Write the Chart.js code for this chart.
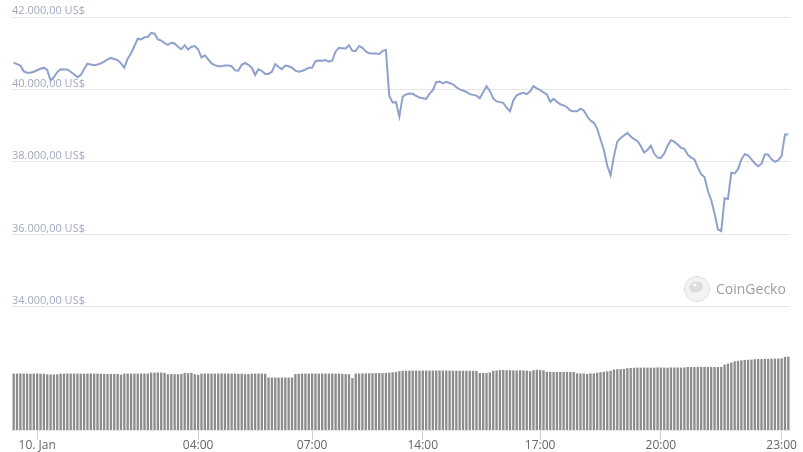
<!DOCTYPE html>
<html>
<head>
<meta charset="utf-8">
<script src="https://cdn.jsdelivr.net/npm/chart.js@4/dist/chart.umd.min.js"></script>
<style>
  html, body { margin: 0; padding: 0; background: #fff; }
  #wrap { width: 803px; height: 452px; position: relative; }
</style>
</head>
<body>
<div id="wrap"><canvas id="btcChart"></canvas></div>
<script>
// BTC price (US$) per 5-minute sample
const priceValues = [
  40740, 40700, 40660, 40500, 40460, 40460, 40490, 40530, 40570, 40600,
  40540, 40250, 40340, 40480, 40560, 40550, 40550, 40490, 40420, 40340,
  40400, 40560, 40710, 40690, 40670, 40690, 40720, 40770, 40830, 40870,
  40840, 40810, 40720, 40600, 40850, 41000, 41200, 41400, 41380, 41440,
  41450, 41560, 41540, 41380, 41350, 41280, 41230, 41290, 41270, 41180,
  41110, 41220, 41100, 41180, 41200, 41110, 40880, 40940, 40830, 40720,
  40670, 40640, 40640, 40660, 40660, 40640, 40530, 40520, 40680, 40730,
  40680, 40600, 40400, 40560, 40510, 40430, 40430, 40490, 40700, 40620,
  40560, 40660, 40640, 40600, 40520, 40490, 40510, 40550, 40600, 40600,
  40780, 40800, 40790, 40810, 40770, 40800, 41050, 41150, 41140, 41130,
  41220, 41070, 41060, 41200, 41150, 41050, 41000, 40990, 40990, 40980,
  41060, 41090, 39820, 39640, 39650, 39250, 39800, 39860, 39890, 39880,
  39820, 39780, 39760, 39740, 39880, 39980, 40200, 40220, 40170, 40210,
  40180, 40140, 40060, 40000, 39970, 39930, 39870, 39850, 39830, 39760,
  39920, 40090, 39960, 39750, 39670, 39650, 39630, 39500, 39400, 39700,
  39840, 39880, 39910, 39870, 39950, 40090, 40030, 39980, 39920, 39860,
  39660, 39740, 39660, 39590, 39560, 39510, 39420, 39400, 39400, 39470,
  39420, 39260, 39140, 39080, 38920, 38620, 38330, 37900, 37630, 38160,
  38560, 38660, 38730, 38800, 38700, 38630, 38580, 38440, 38260, 38330,
  38450, 38230, 38120, 38110, 38230, 38450, 38600, 38560, 38480, 38390,
  38360, 38200, 38120, 38070, 37850, 37660, 37580, 37200, 36950, 36580,
  36140, 36090, 37000, 36980, 37700, 37680, 37800, 38070, 38210, 38180,
  38070, 37960, 37880, 37950, 38210, 38200, 38070, 38000, 38050, 38170,
  38760, 38760
];

// 24h trading volume (billion US$) per sample
const volumeValues = [
  39.6, 39.6, 39.7, 39.6, 39.6, 39.5, 39.6, 39.6, 39.6, 39.5,
  39.1, 39.0, 39.0, 39.1,
  39.6, 39.6, 39.7, 39.6, 39.6, 39.6, 39.5, 39.6, 39.6, 39.6, 39.6, 39.6,
  39.4, 39.4, 39.3, 39.4, 39.4, 39.4,
  38.8, 39.5, 39.6, 39.6, 39.6, 39.6, 39.7, 39.6, 39.6,
  40.3, 40.3, 40.4, 40.3, 40.2,
  39.2, 39.3, 39.2, 39.2, 39.3,
  40.1, 40.0, 40.1,
  39.2, 38.8,
  39.6, 39.6, 39.6, 39.6, 39.6, 39.6, 39.7, 39.6, 39.6, 39.6,
  39.6, 39.5, 39.6, 39.2, 39.3, 39.6, 39.6, 39.6, 39.6, 39.5,
  36.9, 36.8, 36.8, 36.8, 36.8, 36.8, 36.8, 36.9,
  39.3, 39.5,
  39.6, 39.6, 39.6, 39.7, 39.6, 39.6, 39.6, 39.6, 39.6, 39.6, 39.6, 39.6, 39.5,
  39.2, 39.2,
  36.5,
  39.6, 39.6, 39.7, 39.8, 39.8, 39.9, 39.9, 40.0, 40.0, 40.1, 40.3, 40.5, 40.8,
  41.3, 41.5, 41.6, 41.7, 41.7, 41.8, 41.7, 41.7, 41.7, 41.7, 41.8, 41.8,
  41.8, 41.8, 41.7, 41.7, 41.6, 41.6, 41.6, 41.6, 41.6, 41.6, 41.5, 41.5,
  40.0, 40.0, 40.1, 40.4,
  41.6, 41.8, 42.0, 42.1, 42.0, 42.0, 41.9, 41.8, 41.9, 41.8, 41.7,
  41.3,
  42.0, 42.3, 42.0, 41.9,
  40.9, 40.8, 40.8, 40.8, 40.8, 40.8, 40.8, 40.8, 40.8,
  39.8, 39.7, 39.7, 39.3, 39.7, 39.7, 40.2,
  40.6, 40.9, 41.2, 41.6,
  42.5, 42.7, 42.7, 42.8,
  43.4, 43.6, 43.7, 43.8, 43.8, 43.8, 43.8, 43.8, 43.8, 43.9, 43.9, 43.8,
  43.8, 43.9, 43.9, 43.8, 43.8, 43.9,
  44.2, 44.2, 44.2, 44.3, 44.3, 44.3, 44.3, 44.3, 44.2, 44.2, 44.3,
  45.9, 46.6, 47.3,
  48.2, 48.6, 48.9, 49.2, 49.3, 49.4,
  49.7, 49.8, 49.8, 50.0, 50.0, 50.1, 50.1, 50.2,
  50.3, 51.3, 51.5
];

const priceTicks = [34000, 36000, 38000, 40000, 42000];
const tickLabels = ['10. Jan', '04:00', '07:00', '14:00', '17:00', '20:00', '23:00'];
const tickIndex = [7, 55, 89, 122, 157, 193, 229];

const labels = priceValues.map((_, i) => {
    const k = tickIndex.indexOf(i);
    return k >= 0 ? tickLabels[k] : '';
});

function formatUsd(v) {
    const int = Math.round(v).toString().replace(/\B(?=(\d{3})+(?!\d))/g, '.');
    return int + ',00 US$';
}

// CoinGecko watermark drawn on the canvas
const watermark = {
    id: 'watermark',
    beforeDatasetsDraw(chart) {
        const { ctx, chartArea } = chart;
        const cx = chartArea.right - 93;
        const cy = 289;
        ctx.save();
        ctx.beginPath();
        ctx.arc(cx, cy, 12.5, 0, Math.PI * 2);
        ctx.fillStyle = '#f3f3f3';
        ctx.fill();
        ctx.lineWidth = 1;
        ctx.strokeStyle = '#dedede';
        ctx.stroke();
        ctx.beginPath();
        ctx.ellipse(cx - 1, cy - 2, 7, 5.5, -0.3, 0, Math.PI * 2);
        ctx.fillStyle = '#dcdcdc';
        ctx.fill();
        ctx.beginPath();
        ctx.arc(cx - 2, cy - 4, 1.6, 0, Math.PI * 2);
        ctx.fillStyle = '#ffffff';
        ctx.fill();
        ctx.fillStyle = '#9e9e9e';
        ctx.font = '14px "Open Sans", sans-serif';
        ctx.textBaseline = 'middle';
        ctx.fillText('CoinGecko', cx + 19, cy + 1);
        ctx.restore();
    }
};

const ctx = document.getElementById('btcChart').getContext('2d');
new Chart(ctx, {
    type: 'bar',
    data: {
        labels: labels,
        datasets: [{
            type: 'line',
            label: 'Price',
            data: priceValues,
            yAxisID: 'y',
            borderColor: '#8fa1cc',
            borderWidth: 2,
            pointRadius: 0,
            tension: 0,
            fill: false,
            order: 0
        }, {
            type: 'bar',
            label: 'Volume',
            data: volumeValues,
            yAxisID: 'y1',
            backgroundColor: '#8c8c8c',
            barPercentage: 0.7,
            categoryPercentage: 1,
            order: 1
        }]
    },
    options: {
        responsive: true,
        maintainAspectRatio: false,
        animation: false,
        layout: { padding: { top: 17, left: 12, right: 13, bottom: 0 } },
        plugins: { legend: { display: false }, tooltip: { enabled: false } },
        scales: {
            x: {
                offset: true,
                grid: { offset: false, drawOnChartArea: false, drawTicks: true, tickLength: 10, color: '#cfcfcf' },
                border: { display: true, color: '#e6e6e6' },
                afterBuildTicks: axis => { axis.ticks = tickIndex.map(v => ({ value: v })); },
                ticks: {
                    autoSkip: false,
                    maxRotation: 0,
                    padding: 0,
                    color: '#666',
                    font: { family: 'Open Sans', size: 12, lineHeight: 1 }
                }
            },
            y: {
                position: 'left',
                min: 30600,
                max: 42000,
                afterBuildTicks: axis => { axis.ticks = priceTicks.map(v => ({ value: v })); },
                grid: { color: '#e6e6e6', drawTicks: false },
                border: { display: false },
                ticks: {
                    mirror: true,
                    padding: 0,
                    labelOffset: -6,
                    color: '#a2a9be',
                    font: { family: 'Open Sans', size: 11 },
                    callback: v => formatUsd(v)
                }
            },
            y1: {
                display: false,
                min: 0,
                max: 290
            }
        }
    },
    plugins: [watermark]
});
</script>
</body>
</html>
